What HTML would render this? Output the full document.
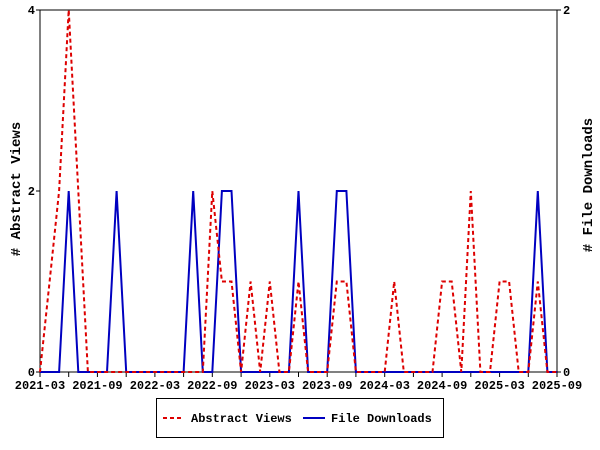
<!DOCTYPE html>
<html><head><meta charset="utf-8"><style>
html,body{margin:0;padding:0;background:#fff;}
svg{display:block;}
text{font-family:"Liberation Mono","DejaVu Sans Mono",monospace;font-weight:bold;font-size:12px;fill:#000;}
</style></head><body>
<svg width="600" height="450" xmlns="http://www.w3.org/2000/svg">
<rect x="0" y="0" width="600" height="450" fill="#fff"/>
<rect x="40" y="10" width="517" height="362" fill="none" stroke="#000" stroke-width="1"/>
<g stroke="#000" stroke-width="1">
<line x1="36" y1="10" x2="40" y2="10"/><line x1="36" y1="191" x2="40" y2="191"/><line x1="36" y1="372" x2="40" y2="372"/>
<line x1="557" y1="10" x2="561" y2="10"/><line x1="557" y1="372" x2="561" y2="372"/>
<line x1="40" y1="372" x2="40" y2="377"/><line x1="68.7" y1="372" x2="68.7" y2="377"/><line x1="97.4" y1="372" x2="97.4" y2="377"/><line x1="126.2" y1="372" x2="126.2" y2="377"/><line x1="154.9" y1="372" x2="154.9" y2="377"/><line x1="183.6" y1="372" x2="183.6" y2="377"/><line x1="212.3" y1="372" x2="212.3" y2="377"/><line x1="241.1" y1="372" x2="241.1" y2="377"/><line x1="269.8" y1="372" x2="269.8" y2="377"/><line x1="298.5" y1="372" x2="298.5" y2="377"/><line x1="327.2" y1="372" x2="327.2" y2="377"/><line x1="355.9" y1="372" x2="355.9" y2="377"/><line x1="384.7" y1="372" x2="384.7" y2="377"/><line x1="413.4" y1="372" x2="413.4" y2="377"/><line x1="442.1" y1="372" x2="442.1" y2="377"/><line x1="470.8" y1="372" x2="470.8" y2="377"/><line x1="499.6" y1="372" x2="499.6" y2="377"/><line x1="528.3" y1="372" x2="528.3" y2="377"/><line x1="557" y1="372" x2="557" y2="377"/>
</g>
<g text-anchor="end">
<text x="35" y="14">4</text><text x="35" y="195">2</text><text x="35" y="376">0</text>
</g>
<g text-anchor="start">
<text x="563" y="14">2</text><text x="563" y="376">0</text>
</g>
<g text-anchor="middle">
<text x="40" y="389">2021-03</text><text x="97.4" y="389">2021-09</text><text x="154.9" y="389">2022-03</text><text x="212.3" y="389">2022-09</text><text x="269.8" y="389">2023-03</text><text x="327.2" y="389">2023-09</text><text x="384.7" y="389">2024-03</text><text x="442.1" y="389">2024-09</text><text x="499.6" y="389">2025-03</text><text x="557" y="389">2025-09</text>
</g>
<text x="20" y="189" text-anchor="middle" transform="rotate(-90 20 189)" style="font-size:14px">#&#160;Abstract&#160;Views</text>
<text x="592" y="185" text-anchor="middle" transform="rotate(-90 592 185)" style="font-size:14px">#&#160;File&#160;Downloads</text>
<polyline fill="none" stroke="#0000c0" stroke-width="2" points="40,372 59.1,372 68.7,191 78.3,372 107,372 116.6,191 126.2,372 183.6,372 193.2,191 202.8,372 212.3,372 221.9,191 231.5,191 241.1,372 288.9,372 298.5,191 308.1,372 327.2,372 336.8,191 346.4,191 355.9,372 528.3,372 537.8,191 547.4,372 557,372"/>
<polyline fill="none" stroke="#dd0000" stroke-width="2" stroke-dasharray="4,3" points="40,372 49.6,281.5 59.1,191 68.7,10 78.3,191 87.9,372 202.8,372 212.3,191 221.9,281.5 231.5,281.5 241.1,372 250.6,281.5 260.2,372 269.8,281.5 279.4,372 288.9,372 298.5,281.5 308.1,372 327.2,372 336.8,281.5 346.4,281.5 355.9,372 384.7,372 394.2,281.5 403.8,372 432.5,372 442.1,281.5 451.7,281.5 461.3,372 470.8,191 480.4,372 490,372 499.6,281.5 509.1,281.5 518.7,372 528.3,372 537.8,281.5 547.4,372 557,372"/>
<rect x="156.5" y="398.5" width="287" height="39" fill="#fff" stroke="#000" stroke-width="1"/>
<line x1="163" y1="418" x2="184" y2="418" stroke="#dd0000" stroke-width="2" stroke-dasharray="4,3"/>
<text x="191" y="422">Abstract Views</text>
<line x1="303" y1="418" x2="325" y2="418" stroke="#0000c0" stroke-width="2"/>
<text x="331" y="422">File Downloads</text>
</svg>
</body></html>
